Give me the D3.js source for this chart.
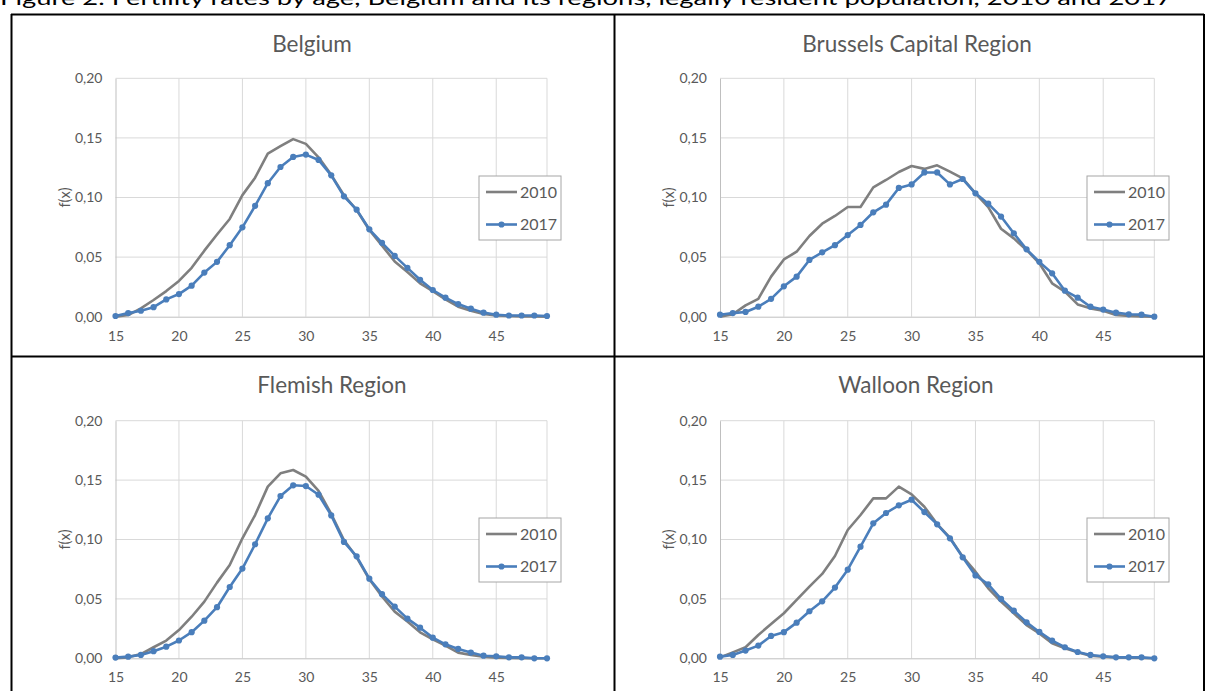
<!DOCTYPE html>
<html lang="en">
<head>
    <meta charset="UTF-8">
    <title>Fertility rates by age</title>
    <script type="text/javascript" src="https://cdnjs.cloudflare.com/ajax/libs/d3/7.8.5/d3.min.js"></script>
    <style>
        body { margin: 0; background: white; }
        svg { display: block; font-family: Lato, "Open Sans", sans-serif; }
    </style>
</head>
<body>
<svg id="chart" width="1206" height="691"></svg>

<script type="text/javascript">
    const ages = [15, 16, 17, 18, 19, 20, 21, 22, 23, 24, 25, 26, 27, 28, 29, 30, 31, 32,
        33, 34, 35, 36, 37, 38, 39, 40, 41, 42, 43, 44, 45, 46, 47, 48, 49];
    const xTicks = [15, 20, 25, 30, 35, 40, 45];
    const yTicks = [0, 0.05, 0.10, 0.15, 0.20];
    const years = ["2010", "2017"];
    const regions = ["Belgium", "Brussels Capital Region", "Flemish Region", "Walloon Region"];

    // values
    const belgium2010 = [0.000, 0.0014, 0.007, 0.014, 0.0215, 0.030, 0.041, 0.0554, 0.069, 0.082,
        0.102, 0.1166, 0.1368, 0.143, 0.149, 0.145, 0.1337, 0.119, 0.102, 0.0895,
        0.0727, 0.0596, 0.0464, 0.0375, 0.028, 0.0215, 0.0145, 0.0084, 0.005, 0.0022,
        0.001, 0.0006, 0.0003, 0.0003, 0.000];
    const belgium2017 = [0.0006, 0.003, 0.005, 0.008, 0.0145, 0.019, 0.026, 0.037, 0.046, 0.060,
        0.075, 0.093, 0.112, 0.1256, 0.134, 0.136, 0.1315, 0.1186, 0.101, 0.0898,
        0.0733, 0.062, 0.051, 0.041, 0.031, 0.0224, 0.016, 0.0106, 0.0067, 0.0034,
        0.0017, 0.001, 0.001, 0.001, 0.0006];
    const brussels2010 = [0.000, 0.002, 0.0095, 0.015, 0.0336, 0.048, 0.0545, 0.0677, 0.078, 0.0845,
        0.092, 0.092, 0.1085, 0.1147, 0.1214, 0.1264, 0.124, 0.127, 0.1217, 0.116,
        0.1035, 0.092, 0.0738, 0.0657, 0.056, 0.0448, 0.028, 0.021, 0.0103, 0.007,
        0.005, 0.0014, 0.0006, 0.0003, 0.000];
    const brussels2017 = [0.0017, 0.003, 0.004, 0.0084, 0.015, 0.0255, 0.0336, 0.0476, 0.054, 0.060,
        0.0685, 0.077, 0.0876, 0.094, 0.108, 0.111, 0.121, 0.121, 0.111, 0.1155,
        0.1035, 0.0948, 0.084, 0.070, 0.0565, 0.046, 0.0364, 0.0218, 0.016, 0.0084,
        0.006, 0.0034, 0.002, 0.0017, 0.000];
    const flemish2010 = [0.000, 0.0008, 0.0036, 0.0093, 0.0149, 0.0238, 0.035, 0.0477, 0.0637, 0.0785,
        0.101, 0.1206, 0.1445, 0.1557, 0.1585, 0.153, 0.141, 0.1215, 0.0996, 0.085,
        0.0665, 0.052, 0.0393, 0.0309, 0.0219, 0.016, 0.0107, 0.0048, 0.0028, 0.0014,
        0.0006, 0.0003, 0.000, 0.000, 0.000];
    const flemish2017 = [0.0006, 0.0014, 0.0028, 0.006, 0.0098, 0.015, 0.022, 0.0317, 0.043, 0.060,
        0.0755, 0.096, 0.1178, 0.1366, 0.1456, 0.145, 0.1377, 0.1203, 0.098, 0.0858,
        0.067, 0.054, 0.0435, 0.0334, 0.0258, 0.0174, 0.0118, 0.0079, 0.0048, 0.0022,
        0.0017, 0.0008, 0.0008, 0.000, 0.000];
    const walloon2010 = [0.0008, 0.005, 0.0093, 0.0196, 0.0289, 0.0379, 0.0491, 0.0603, 0.071, 0.0861,
        0.108, 0.1206, 0.1346, 0.1346, 0.1445, 0.138, 0.1276, 0.113, 0.1015, 0.0856,
        0.0729, 0.0589, 0.0477, 0.0379, 0.028, 0.021, 0.0126, 0.0084, 0.005, 0.0022,
        0.0014, 0.0008, 0.0006, 0.0003, 0.000];
    const walloon2017 = [0.0014, 0.0028, 0.0065, 0.0107, 0.0188, 0.022, 0.030, 0.0396, 0.048, 0.0595,
        0.0746, 0.094, 0.1136, 0.1223, 0.1288, 0.1335, 0.1231, 0.1128, 0.101, 0.085,
        0.0698, 0.0623, 0.050, 0.0401, 0.0303, 0.0222, 0.0149, 0.0093, 0.0053, 0.0028,
        0.0017, 0.0008, 0.0008, 0.0008, 0.000];

    const seriesByRegion = [
        [belgium2010, belgium2017],
        [brussels2010, brussels2017],
        [flemish2010, flemish2017],
        [walloon2010, walloon2017]
    ];

    const grey = "#7f7f7f";
    const blue = "#4a7ebb";
    const textColor = "#595959";
    const fmt = d3.format(".2f");

    const svg = d3.select("#chart");

    // figure caption, cut off at the top of the picture like the source
    svg.append("text")
        .attr("x", 0)
        .attr("y", 5)
        .attr("font-size", 20)
        .attr("fill", "#000")
        .attr("textLength", 1172)
        .attr("lengthAdjust", "spacingAndGlyphs")
        .text("Figure 2. Fertility rates by age, Belgium and its regions, legally resident population, 2010 and 2017");

    // grid cells: columns and rows of the surrounding table
    const cols = [
        {left: 115.5, right: 547, legendX: 479},
        {left: 720, right: 1154.3, legendX: 1087}
    ];
    const rows = [
        {titleY: 44, top: 78.3, bottom: 316.7, legendY: 176},
        {titleY: 385, top: 420.7, bottom: 658.3, legendY: 518}
    ];
    const titleX = [312, 917, 332, 916];

    regions.forEach(function(name, i) {
        const c = cols[i % 2];
        const r = rows[Math.floor(i / 2)];
        const data = seriesByRegion[i];

        const x = d3.scaleLinear().domain([15, 49]).range([c.left, c.right]);
        const y = d3.scaleLinear().domain([0, 0.20]).range([r.bottom, r.top]);

        const g = svg.append("g");

        // gridlines
        g.append("g")
            .selectAll("line.h")
            .data(yTicks.slice(1))
            .enter().append("line")
            .attr("x1", c.left).attr("x2", c.right)
            .attr("y1", d => y(d)).attr("y2", d => y(d))
            .attr("stroke", "#d9d9d9").attr("stroke-width", 1);
        g.append("g")
            .selectAll("line.v")
            .data(xTicks.slice(1).concat([49]))
            .enter().append("line")
            .attr("x1", d => x(d)).attr("x2", d => x(d))
            .attr("y1", r.top).attr("y2", r.bottom)
            .attr("stroke", "#d9d9d9").attr("stroke-width", 1);

        // axes
        const xAxis = g.append("g")
            .attr("transform", "translate(0," + r.bottom + ")")
            .call(d3.axisBottom(x).tickValues(xTicks).tickSize(0).tickPadding(14));
        const yAxis = g.append("g")
            .attr("transform", "translate(" + c.left + ",0)")
            .call(d3.axisLeft(y).tickValues(yTicks).tickSize(0).tickPadding(13)
                .tickFormat(d => fmt(d).replace(".", ",")));
        [xAxis, yAxis].forEach(function(a) {
            a.attr("font-size", 14);
            a.select(".domain").attr("stroke", "#bfbfbf").attr("stroke-width", 1);
            a.selectAll("text")
                .attr("fill", textColor)
                .attr("font-family", "Lato, 'Open Sans', sans-serif");
        });

        // y axis title
        g.append("text")
            .attr("transform", "translate(" + (c.left - 46) + "," + ((r.top + r.bottom) / 2) + ") rotate(-90)")
            .attr("text-anchor", "middle")
            .attr("fill", textColor)
            .attr("font-size", 14.5)
            .text("f(x)");

        // panel title
        g.append("text")
            .attr("x", titleX[i])
            .attr("y", r.titleY)
            .attr("dy", "0.35em")
            .attr("text-anchor", "middle")
            .attr("fill", textColor)
            .attr("font-size", 22.5)
            .text(name);

        const line = d3.line()
            .x((d, k) => x(ages[k]))
            .y(d => y(d));

        g.append("path")
            .datum(data[0])
            .attr("fill", "none")
            .attr("stroke", grey)
            .attr("stroke-width", 2.6)
            .attr("stroke-linejoin", "round")
            .attr("d", line);

        g.append("path")
            .datum(data[1])
            .attr("fill", "none")
            .attr("stroke", blue)
            .attr("stroke-width", 2.6)
            .attr("stroke-linejoin", "round")
            .attr("d", line);

        g.append("g")
            .selectAll("circle")
            .data(data[1])
            .enter().append("circle")
            .attr("cx", (d, k) => x(ages[k]))
            .attr("cy", d => y(d))
            .attr("r", 3.1)
            .attr("fill", blue);

        // legend
        const lg = g.append("g").attr("transform", "translate(" + c.legendX + "," + r.legendY + ")");
        lg.append("rect")
            .attr("width", 82).attr("height", 64)
            .attr("fill", "white")
            .attr("stroke", "#a6a6a6").attr("stroke-width", 1);
        years.forEach(function(yr, k) {
            const ly = 16 + k * 32.5;
            lg.append("line")
                .attr("x1", 7).attr("x2", 38)
                .attr("y1", ly).attr("y2", ly)
                .attr("stroke", k === 0 ? grey : blue)
                .attr("stroke-width", 2.6);
            if (k === 1) {
                lg.append("circle").attr("cx", 22.5).attr("cy", ly).attr("r", 3.1).attr("fill", blue);
            }
            lg.append("text")
                .attr("x", 41)
                .attr("y", ly)
                .attr("dy", "0.35em")
                .attr("fill", textColor)
                .attr("font-size", 16)
                .text(yr);
        });
    });

    // table borders
    const borders = [
        [11, 14.5, 1204, 14.5],
        [11, 356.5, 1204, 356.5],
        [11.5, 14, 11.5, 691],
        [614.5, 14, 614.5, 691],
        [1204, 14, 1204, 691]
    ];
    svg.append("g")
        .selectAll("line")
        .data(borders)
        .enter().append("line")
        .attr("x1", d => d[0]).attr("y1", d => d[1])
        .attr("x2", d => d[2]).attr("y2", d => d[3])
        .attr("stroke", "#000")
        .attr("stroke-width", 2);
</script>

</body>
</html>
